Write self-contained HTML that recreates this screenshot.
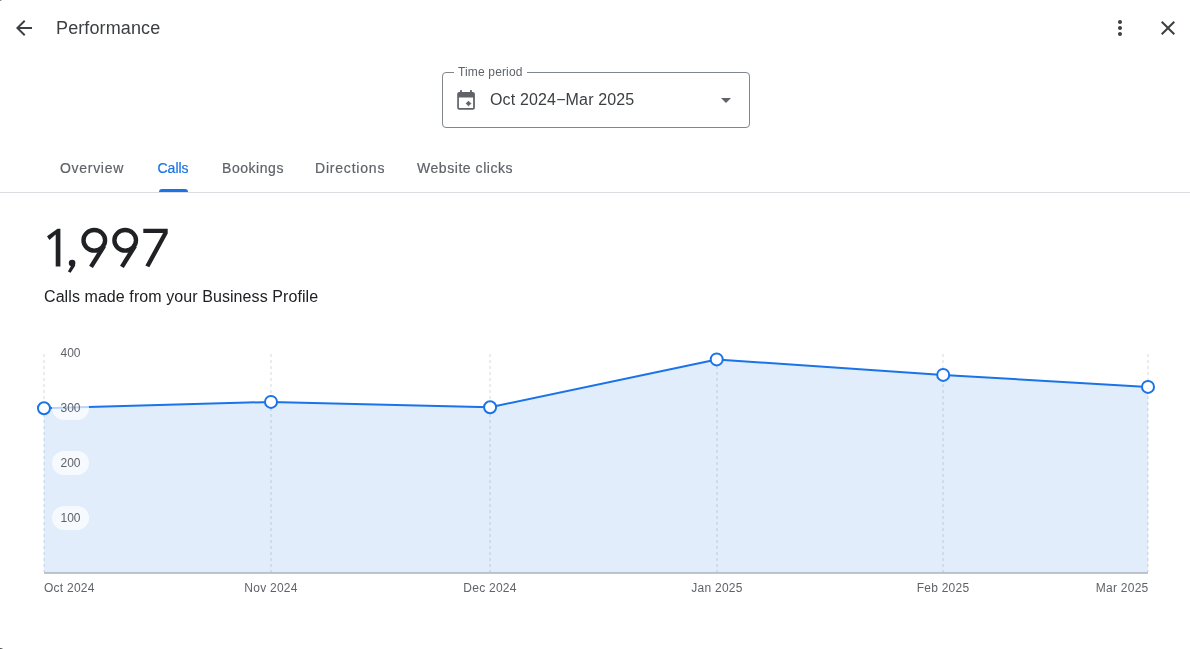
<!DOCTYPE html>
<html><head><meta charset="utf-8">
<style>
*{box-sizing:border-box;margin:0;padding:0}
html,body{width:1190px;height:649px;overflow:hidden;background:#fff}
body{position:relative;font-family:"Liberation Sans",sans-serif;color:#202124}
.a{position:absolute;white-space:nowrap}
.ico{position:absolute;width:24px;height:24px}
#title{left:56px;top:16px;font-size:18px;line-height:24px;color:#3c4043;letter-spacing:.12px}
#field{left:442px;top:72px;width:308px;height:56px;border:1px solid #80868b;border-radius:4px}
#flabel{left:454px;top:64px;font-size:12px;line-height:16px;color:#5f6368;background:#fff;padding:0 4px;letter-spacing:.15px}
#fval{left:490px;top:90px;font-size:16px;line-height:20px;color:#3c4043;letter-spacing:.15px}
.tab{position:absolute;top:158px;font-size:14px;line-height:20px;color:#5f6368;-webkit-text-stroke:.2px currentColor}
#divider{left:0;top:192px;width:1190px;height:1px;background:#dadce0}
#ind{left:159px;top:189px;width:29px;height:3px;background:#1a73e8;border-radius:3px 3px 0 0}
#big{left:42px;top:220px;font-size:54px;line-height:54px;color:#202124}
#sub{left:44px;top:287px;font-size:16px;line-height:20px;color:#202124;letter-spacing:.08px}
.yl{position:absolute;left:52px;width:37px;height:24px;border-radius:12px;background:rgba(255,255,255,.7);font-size:12px;line-height:24px;text-align:center;color:#5f6368}
.xl{position:absolute;white-space:nowrap;top:580px;font-size:12px;line-height:16px;color:#5f6368;letter-spacing:.25px}
#wrap{position:absolute;left:0;top:0;width:1190px;height:649px;will-change:transform;background:#fff}
</style></head><body><div id="wrap">
<!-- header -->
<svg class="ico" style="left:12px;top:16px" viewBox="0 0 24 24"><path fill="#3c4043" d="M20 11H7.83l5.59-5.59L12 4l-8 8 8 8 1.41-1.41L7.83 13H20v-2z"/></svg>
<div class="a" id="title">Performance</div>
<svg class="ico" style="left:1108px;top:16px" viewBox="0 0 24 24"><path fill="#3c4043" d="M12 8c1.1 0 2-.9 2-2s-.9-2-2-2-2 .9-2 2 .9 2 2 2zm0 2c-1.1 0-2 .9-2 2s.9 2 2 2 2-.9 2-2-.9-2-2-2zm0 6c-1.1 0-2 .9-2 2s.9 2 2 2 2-.9 2-2-.9-2-2-2z"/></svg>
<svg class="ico" style="left:1156px;top:16px" viewBox="0 0 24 24"><path fill="#3c4043" d="M19 6.41L17.590 5 12 10.59 6.41 5 5 6.41 10.59 12 5 17.590 6.41 19 12 13.41 17.590 19 19 17.590 13.41 12z"/></svg>

<!-- time period field -->
<div class="a" id="field"></div>
<div class="a" id="flabel">Time period</div>
<svg class="ico" style="left:454px;top:89px" viewBox="0 0 24 24"><g fill="#5f6368"><path fill-rule="evenodd" d="M5.2 3h13.7a2 2 0 0 1 2 2v13.7a2 2 0 0 1-2 2H5.2a2 2 0 0 1-2-2V5a2 2 0 0 1 2-2zM4.9 8.6v10.4h14.2V8.6z"/><rect x="6.1" y="1.1" width="1.8" height="2.5"/><rect x="16" y="1.1" width="1.9" height="2.5"/><path d="M14.5 12.2L16.8 14.5L14.5 16.8L12.2 14.5Z" stroke="#5f6368" stroke-width="1" stroke-linejoin="round"/></g></svg>
<div class="a" id="fval">Oct 2024−Mar 2025</div>
<svg class="ico" style="left:714px;top:88px" viewBox="0 0 24 24"><path fill="#5f6368" d="M7 10l5 5 5-5z"/></svg>

<!-- tabs -->
<div class="tab" style="left:60px;letter-spacing:.7px">Overview</div>
<div class="tab" style="left:157.5px;color:#1a73e8">Calls</div>
<div class="tab" style="left:222px;letter-spacing:.55px">Bookings</div>
<div class="tab" style="left:315px;letter-spacing:.8px">Directions</div>
<div class="tab" style="left:417px;letter-spacing:.55px">Website clicks</div>
<div class="a" id="divider"></div>
<div class="a" id="ind"></div>

<!-- summary -->
<svg class="a" style="left:0;top:0" width="200" height="280" viewBox="0 0 200 280"><g fill="#202124"><path d="M47 236.3L57.5 228.8H60.4V266.5H55.7V234.6L49.4 239.9Z"/><circle cx="72.1" cy="263" r="3.3"/><path d="M72.2 263.8L75.3 265.6L70.6 272.8L67.9 271.4Z"/><path d="M143.3 228.8H167.7V233.5L149.3 267.3L145.4 265.4L163.1 232.9H143.3Z"/></g><g fill="none" stroke="#202124" stroke-width="4.4"><ellipse cx="94.3" cy="240.3" rx="10.8" ry="10.3"/><path d="M104 246L91 266.8"/><ellipse cx="125.2" cy="240.3" rx="10.8" ry="10.3"/><path d="M134.9 246L121.9 266.8"/></g></svg>
<div class="a" id="sub">Calls made from your Business Profile</div>

<!-- chart -->
<svg class="a" style="left:0;top:0" width="1190" height="649" viewBox="0 0 1190 649">
    <g stroke="#d6d8dc" stroke-width="1" stroke-dasharray="3 3">
    <line x1="44" y1="354" x2="44" y2="572"/>
    <line x1="271" y1="354" x2="271" y2="572"/>
    <line x1="490" y1="354" x2="490" y2="572"/>
    <line x1="717" y1="354" x2="717" y2="572"/>
    <line x1="943" y1="354" x2="943" y2="572"/>
    <line x1="1148" y1="354" x2="1148" y2="572"/>
  </g>
  <path d="M44 408.3 L271 401.9 L490.1 407.2 L716.7 359.4 L943.2 374.9 L1148 386.9 L1148 573 L44 573 Z" fill="#1a73e8" fill-opacity=".125"/>
  <line x1="44" y1="573" x2="1148" y2="573" stroke="#8a9099" stroke-width="1"/>
  <polyline points="44,408.3 271,401.9 490.1,407.2 716.7,359.4 943.2,374.9 1148,386.9" fill="none" stroke="#1a73e8" stroke-width="2" stroke-linejoin="round"/>
</svg>
<div class="yl" style="top:341px">400</div>
<div class="yl" style="top:396px">300</div>
<div class="yl" style="top:451px">200</div>
<div class="yl" style="top:506px">100</div>
<svg class="a" style="left:0;top:0" width="1190" height="649" viewBox="0 0 1190 649">
  <g fill="#fff" stroke="#1a73e8" stroke-width="2">
    <circle cx="44" cy="408.3" r="6"/>
    <circle cx="271" cy="401.9" r="6"/>
    <circle cx="490.1" cy="407.2" r="6"/>
    <circle cx="716.7" cy="359.4" r="6"/>
    <circle cx="943.2" cy="374.9" r="6"/>
    <circle cx="1148" cy="386.9" r="6"/>
  </g>
</svg>
<div class="xl" style="left:44px">Oct 2024</div>
<div class="xl" style="left:271px;transform:translateX(-50%)">Nov 2024</div>
<div class="xl" style="left:490px;transform:translateX(-50%)">Dec 2024</div>
<div class="xl" style="left:717px;transform:translateX(-50%)">Jan 2025</div>
<div class="xl" style="left:943px;transform:translateX(-50%)">Feb 2025</div>
<div class="xl" style="left:1148.5px;transform:translateX(-100%)">Mar 2025</div>
<div class="a" style="left:0;top:0;width:1px;height:1px;background:#8a8a8a"></div>
<div class="a" style="left:1px;top:0;width:1px;height:1px;background:#d8d8d8"></div>
<div class="a" style="left:0;top:648px;width:1px;height:1px;background:#555"></div>
<div class="a" style="left:1px;top:648px;width:1px;height:1px;background:#7a7a7a"></div>
<div class="a" style="left:2px;top:648px;width:1px;height:1px;background:#c4c4c4"></div>
</div></body></html>
